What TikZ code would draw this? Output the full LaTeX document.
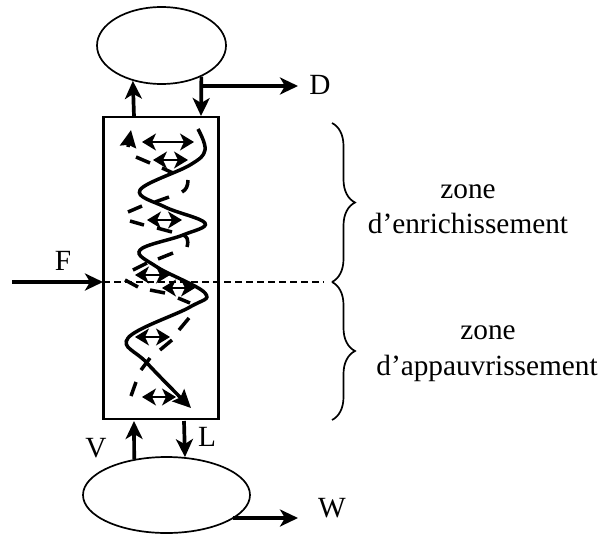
\documentclass[tikz,border=0pt]{standalone}
\usepackage{fontspec}
\setmainfont{Liberation Serif}
\usetikzlibrary{arrows.meta, shapes.geometric, decorations.pathreplacing}
\tikzset{
  drum/.style={draw, ellipse, line width=1.7pt, inner sep=0pt},
  tag/.style={inner sep=0pt, font=\fontsize{29.3}{31}\selectfont},
  flow/.style={line width=3.7pt, -{Stealth[length=18pt,width=17pt,inset=5pt]}},
  exchange/.style={line width=1.4pt, {Stealth[length=14pt,width=17pt,inset=4pt]}-{Stealth[length=14pt,width=17pt,inset=4pt]}},
  liquid/.style={line width=3.5pt},
  zonebrace/.style={line width=1.7pt, decorate, decoration={brace, amplitude=23pt, aspect=0.5}}
}
\begin{document}
\begin{tikzpicture}[x=1pt, y=-1pt]
\useasboundingbox (0,0) rectangle (602,533);
\node [draw, line width=2.2pt, minimum width=115pt, minimum height=302pt, inner sep=0pt] (column) at (161,268) {};
\node [drum, minimum width=129pt, minimum height=77pt] (condenser) at (161.5,45.5) {};
\node [drum, minimum width=167pt, minimum height=76pt] (reboiler) at (166.5,495) {};
\coordinate (vaptop) at (134,117);
\coordinate (liqtop) at (201,116);
\coordinate (branchD) at (201,86);
\coordinate (endD) at (298,86);
\coordinate (vapbot) at (134,421);
\coordinate (liqbot) at (184,421);
\coordinate (endW) at (298,518);
\coordinate (startF) at (12,282);
\coordinate (feedin) at (103,282);
\coordinate (feedout) at (324,282);
\coordinate (zonetop) at (332,123);
\coordinate (zonemid) at (332,282);
\coordinate (zonebot) at (332,420);
% streams
\draw [flow] (vaptop) -- (condenser.231.7);
\draw [flow] (condenser.322.4) -- (liqtop);
\draw [flow] (branchD) -- (endD);
\draw [flow] (reboiler.132.9) -- (vapbot);
\draw [flow] (liqbot) -- (reboiler.64.7);
\draw [flow] (reboiler.340.9 |- endW) -- (endW);
\draw [flow] (startF) -- (feedin);
\draw [dashed, line width=1.4pt, dash pattern=on 7pt off 4pt] (feedin) -- (feedout);
% liquid path
\draw [liquid, -{Stealth[length=18pt,width=17pt,inset=3pt]}] plot [smooth, tension=0.62] coordinates {(198,129) (205,150) (190,165) (140,190) (165,207) (205,223) (183,235) (140,250) (157,267) (205,293) (190,307) (128,338) (147,363) (191,408)};
% vapour path, broken by hand
\foreach \ax/\ay/\bx/\by in {136/157/150/163, 162/168/173/173, 169/197/155/202, 142/206/128/212, 130/221/144/225, 157/228/172/232, 173/253/158/259, 147/263/133/270, 125/280/138/287, 150/290/165/293, 178/298/190/303, 189/318/179/330, 172/340/160/350, 150/358/141/370, 136/382/131/396}
  \draw [liquid] (\ax,\ay) -- (\bx,\by);
\draw [liquid] (188,180) .. controls (188,186) and (186,190) .. (182,192);
\draw [liquid] (183,235) .. controls (187,236) and (189,240) .. (187,247);
\draw [liquid, -{Stealth[length=17pt,width=16pt,inset=2pt]}] (128,147) -- (131,130);
% exchanges
\foreach \ax/\bx/\ay in {142/194/142, 153/188/160, 147/182/220, 135/170/275, 162/195/288, 135/170/337, 142/176/397}
  \draw [exchange] (\ax,\ay) -- (\bx,\ay);
% zones
\draw [zonebrace] (zonetop) -- (zonemid);
\draw [zonebrace] (zonemid) -- (zonebot);
% labels
\node [tag] (labelD) at (320,85) {D};
\node [tag] (labelW) at (332,508) {W};
\node [tag] (labelV) at (96,448) {V};
\node [tag] (labelL) at (207,437) {L};
\node [tag] (labelF) at (63,261) {F};
\node [tag] (zoneA) at (468,192) {zone};
\node [tag] (nameA) at (468,223) {d’enrichissement};
\node [tag] (zoneB) at (488,333) {zone};
\node [tag] (nameB) at (487,368) {d’appauvrissement};
\end{tikzpicture}
\end{document}
